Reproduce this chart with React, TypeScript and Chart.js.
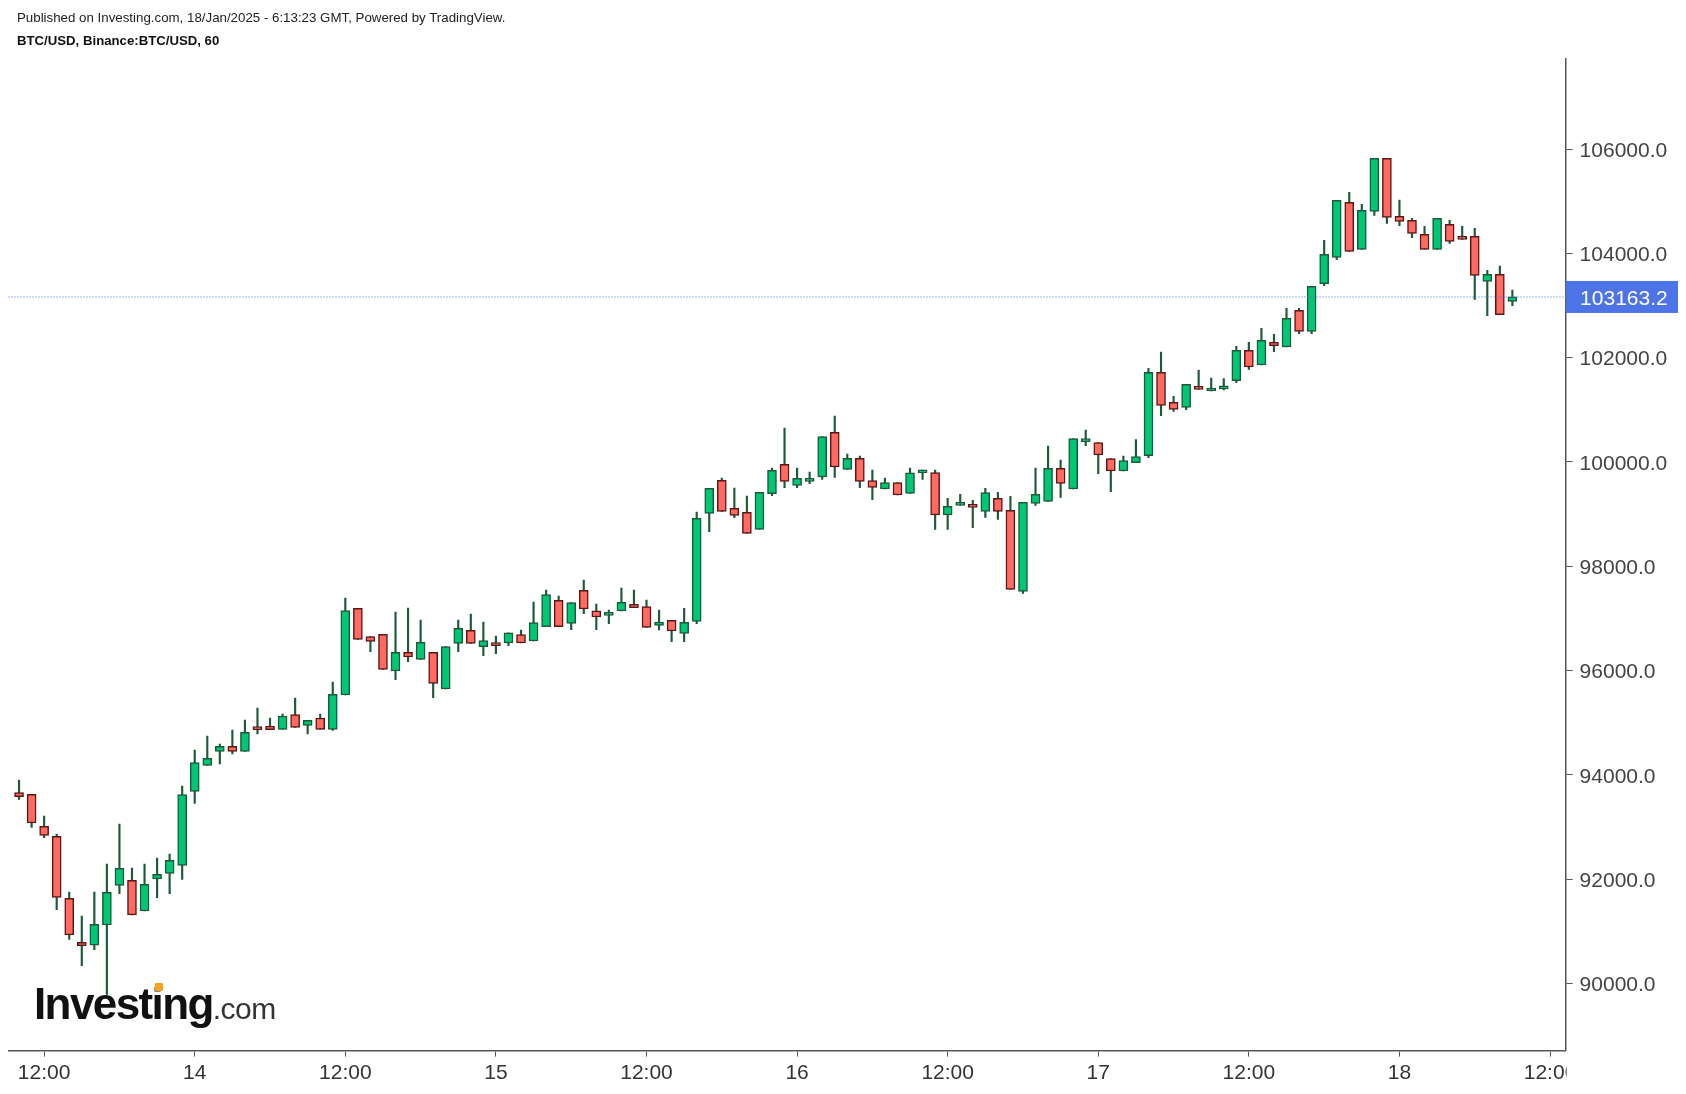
import React, { useEffect, useRef } from "react";
import { Chart, registerables } from "chart.js";

Chart.register(...registerables);

// Hourly BTC/USD candles (index 0 = 13 Jan 10:00)
const opens = [
  93658, 93625, 93012, 92820, 91631, 90787, 90736, 91120, 91880, 91976,
  91388, 92002, 92110, 92264, 93683, 94182, 94450, 94546, 94450, 94897,
  94936, 94872, 95153, 94949, 95089, 94870, 95531, 97192, 96649, 96694,
  95991, 96349, 96214, 96349, 95646, 96521, 96770, 96457, 96502, 96527,
  96687, 96566, 96840, 97345, 96904, 97537, 97147, 97058, 97141, 97269,
  97224, 96866, 96962, 96713, 96943, 99014, 99647, 99110, 99033, 98707,
  99391, 99953, 99551, 99627, 99710, 100567, 99857, 100068, 99640, 99480,
  99602, 99397, 99790, 99794, 98982, 99168, 99187, 99052, 99302, 99072,
  97518, 99206, 99244, 99877, 99481, 100390, 100369, 100062, 99826, 99986,
  100120, 101718, 101143, 101047, 101450, 101360, 101400, 101557, 102139, 101858,
  102293, 102203, 102906, 102504, 103418, 103923, 104977, 104076, 104805, 105821,
  104709, 104632, 104364, 104076, 104556, 104287, 104325, 103463, 103597, 103079,
];
const highs = [
  93900, 93625, 93210, 92865, 91753, 91292, 91753, 92289, 93057, 92213,
  92289, 92405, 92481, 93785, 94476, 94744, 94591, 94859, 95051, 95281,
  95089, 95166, 95473, 95044, 95166, 95780, 97391, 97192, 96649, 96694,
  97122, 97199, 96969, 96349, 96457, 96969, 97083, 96930, 96661, 96725,
  96777, 97313, 97544, 97429, 97301, 97735, 97275, 97160, 97582, 97544,
  97352, 97160, 96962, 97192, 99040, 99494, 99692, 99500, 99347, 99417,
  99883, 100650, 99883, 99806, 100484, 100880, 100151, 100113, 99845, 99691,
  99602, 99883, 99845, 99845, 99302, 99378, 99263, 99494, 99417, 99340,
  99225, 99883, 100305, 100037, 100446, 100612, 100369, 100062, 100114, 100427,
  101795, 102108, 101258, 101488, 101763, 101609, 101600, 102216, 102293, 102561,
  102446, 102945, 102945, 103367, 104249, 105016, 105169, 104939, 105821, 105821,
  105022, 104671, 104517, 104671, 104632, 104517, 104479, 103674, 103757, 103296,
];
const lows = [
  93530, 92993, 92794, 91414, 90845, 90340, 90647, 89790, 91721, 91312,
  91388, 91644, 91721, 91995, 93453, 94182, 94207, 94399, 94450, 94782,
  94866, 94872, 94910, 94782, 94872, 94850, 95531, 96598, 96361, 96023,
  95825, 96170, 96214, 95479, 95646, 96361, 96521, 96284, 96323, 96476,
  96527, 96566, 96840, 96840, 96783, 97090, 96783, 96898, 97141, 97205,
  96828, 96777, 96553, 96553, 96898, 98663, 99053, 98931, 98631, 98707,
  99352, 99506, 99506, 99582, 99666, 99704, 99857, 99506, 99276, 99480,
  99365, 99397, 99666, 98707, 98707, 99168, 98739, 98937, 98899, 97557,
  97480, 99168, 99244, 99321, 99481, 100312, 99775, 99430, 99826, 99986,
  100082, 100887, 100970, 101002, 101392, 101360, 101380, 101520, 101775, 101858,
  102114, 102203, 102459, 102459, 103379, 103878, 104038, 104076, 104728, 104575,
  104530, 104300, 104076, 104076, 104191, 104268, 103117, 102804, 102823, 102996,
];
const closes = [
  93581, 93076, 92839, 91650, 90928, 90723, 91133, 91746, 92206, 91312,
  91900, 92091, 92360, 93619, 94233, 94316, 94546, 94450, 94814, 94866,
  94866, 95128, 94910, 95044, 94872, 95543, 97148, 96598, 96560, 96023,
  96349, 96259, 96540, 95754, 96457, 96809, 96521, 96572, 96476, 96725,
  96527, 96917, 97454, 96840, 97301, 97179, 97026, 97115, 97307, 97205,
  96828, 96930, 96758, 96924, 98918, 99494, 99053, 98976, 98631, 99417,
  99838, 99627, 99685, 99685, 100484, 99902, 100068, 99627, 99512, 99602,
  99365, 99793, 99800, 98982, 99148, 99225, 99129, 99410, 99052, 97557,
  99225, 99378, 99877, 99589, 100446, 100420, 100133, 99826, 100024, 100101,
  101718, 101085, 101008, 101488, 101392, 101380, 101430, 102139, 101820, 102331,
  102229, 102753, 102504, 103367, 103980, 105016, 104038, 104824, 105821, 104690,
  104613, 104383, 104076, 104671, 104230, 104268, 103578, 103597, 102823, 103163.2,
];

const xTickPositions = [2, 14, 26, 38, 50, 62, 74, 86, 98, 110, 122];
const xTickLabels = ["12:00", "14", "12:00", "15", "12:00", "16", "12:00", "17", "12:00", "18", "12:00"];
const yTickValues = [90000, 92000, 94000, 96000, 98000, 100000, 102000, 104000, 106000];
const lastPrice = 103163.2;

const X_MIN = -0.88;
const X_MAX = 123.24;
const Y_MIN = 88712;
const Y_MAX = 107726;

const FONT = '"Liberation Sans", Arial, sans-serif';

const GREEN = "#00C774";
const GREEN_DARK = "#1D5A3A";
const RED = "#FF6B62";
const RED_DARK = "#5C1616";

export default function App() {
  const ref = useRef<HTMLCanvasElement>(null);

  useEffect(() => {
    if (!ref.current) return;
    const idx = opens.map((_, i) => i);
    const up = idx.map((i) => closes[i] >= opens[i]);

    const priceLabel = {
      id: "priceLabel",
      afterDraw(chart: any) {
        const { ctx, chartArea, scales, width, height } = chart;
        // clip x-axis labels beyond the price axis line (as in the original)
        ctx.save();
        ctx.fillStyle = "#ffffff";
        ctx.fillRect(chartArea.right + 1, chartArea.bottom + 2, width - chartArea.right, height - chartArea.bottom);
        const y = scales.y.getPixelForValue(lastPrice);
        ctx.fillStyle = "#4C74E6";
        ctx.fillRect(chartArea.right, y - 16, 113, 32);
        ctx.fillStyle = "#ffffff";
        ctx.font = `21px ${FONT}`;
        ctx.textBaseline = "middle";
        ctx.textAlign = "left";
        ctx.fillText(lastPrice.toFixed(1), chartArea.right + 14.5, y + 2);
        ctx.restore();
      },
    };

    const chart = new Chart(ref.current, {
      type: "bar",
      data: {
        datasets: [
          {
            type: "line",
            data: [
              { x: X_MIN, y: lastPrice },
              { x: X_MAX, y: lastPrice },
            ],
            borderColor: "rgba(76,116,230,0.55)",
            borderWidth: 1,
            borderDash: [2, 1],
            pointRadius: 0,
            order: 0,
          } as any,
          {
            data: idx.map((i) => ({ x: i, y: [opens[i], closes[i]] })),
            backgroundColor: idx.map((i) => (up[i] ? GREEN : RED)),
            borderColor: idx.map((i) => (up[i] ? GREEN_DARK : RED_DARK)),
            borderWidth: 1.5,
            borderSkipped: false,
            barThickness: 9,
            minBarLength: 3,
            grouped: false,
            order: 1,
          } as any,
          {
            data: idx.map((i) => ({ x: i, y: [lows[i], highs[i]] })),
            backgroundColor: GREEN_DARK,
            borderWidth: 0,
            barThickness: 1.5,
            grouped: false,
            order: 2,
          } as any,
        ],
      },
      options: {
        animation: false,
        responsive: true,
        maintainAspectRatio: false,
        events: [],
        layout: { padding: { top: 51, left: 0, right: 0, bottom: 0 } },
        plugins: { legend: { display: false }, tooltip: { enabled: false } },
        scales: {
          x: {
            type: "linear",
            min: X_MIN,
            max: X_MAX,
            offset: false,
            grid: { display: true, drawOnChartArea: false, drawTicks: true, tickLength: 6, color: "#555", offset: false },
            border: { display: true, color: "#555", width: 1.5 },
            ticks: {
              autoSkip: false,
              maxRotation: 0,
              padding: 4,
              color: "#333",
              font: { size: 21, family: FONT },
              callback: (_v: any, i: number) => xTickLabels[i] ?? "",
            },
            afterBuildTicks: (s: any) => {
              s.ticks = xTickPositions.map((v) => ({ value: v }));
            },
            afterFit: (s: any) => {
              s.height = 35.4;
            },
          },
          y: {
            type: "linear",
            position: "right",
            min: Y_MIN,
            max: Y_MAX,
            grid: { drawOnChartArea: false, drawTicks: true, tickLength: 7, color: "#555" },
            border: { display: true, color: "#555", width: 1.5 },
            ticks: {
              padding: 7,
              labelOffset: 2,
              color: "#444",
              font: { size: 21, family: FONT },
              callback: (v: any) => Number(v).toFixed(1),
            },
            afterBuildTicks: (s: any) => {
              s.ticks = yTickValues.map((v) => ({ value: v }));
            },
            afterFit: (s: any) => {
              s.width = 112.4;
            },
          },
        },
      } as any,
      plugins: [priceLabel],
    });
    return () => chart.destroy();
  }, []);

  return (
    <div style={{ position: "relative", width: 1670, height: 1078, fontFamily: FONT }}>
      <canvas ref={ref} />
      <div style={{ position: "absolute", left: 9, top: 2, fontSize: 13.3, lineHeight: "15px", color: "#222", whiteSpace: "nowrap" }}>
        Published on Investing.com, 18/Jan/2025 - 6:13:23 GMT, Powered by TradingView.
      </div>
      <div style={{ position: "absolute", left: 9, top: 25, fontSize: 13.2, lineHeight: "15px", color: "#111", fontWeight: "bold", whiteSpace: "nowrap" }}>
        BTC/USD, Binance:BTC/USD, 60
      </div>
      <div style={{ position: "absolute", left: 26, top: 974, lineHeight: "44px", whiteSpace: "nowrap" }}>
        <span style={{ fontSize: 44, fontWeight: "bold", letterSpacing: -1.6, color: "#111" }}>Investing</span>
        <span style={{ fontSize: 30, color: "#333", letterSpacing: -0.5 }}>.com</span>
      </div>
      <div style={{ position: "absolute", left: 147, top: 975, width: 8, height: 8, borderRadius: 1, background: "#F7A21B" }} />
    </div>
  );
}
